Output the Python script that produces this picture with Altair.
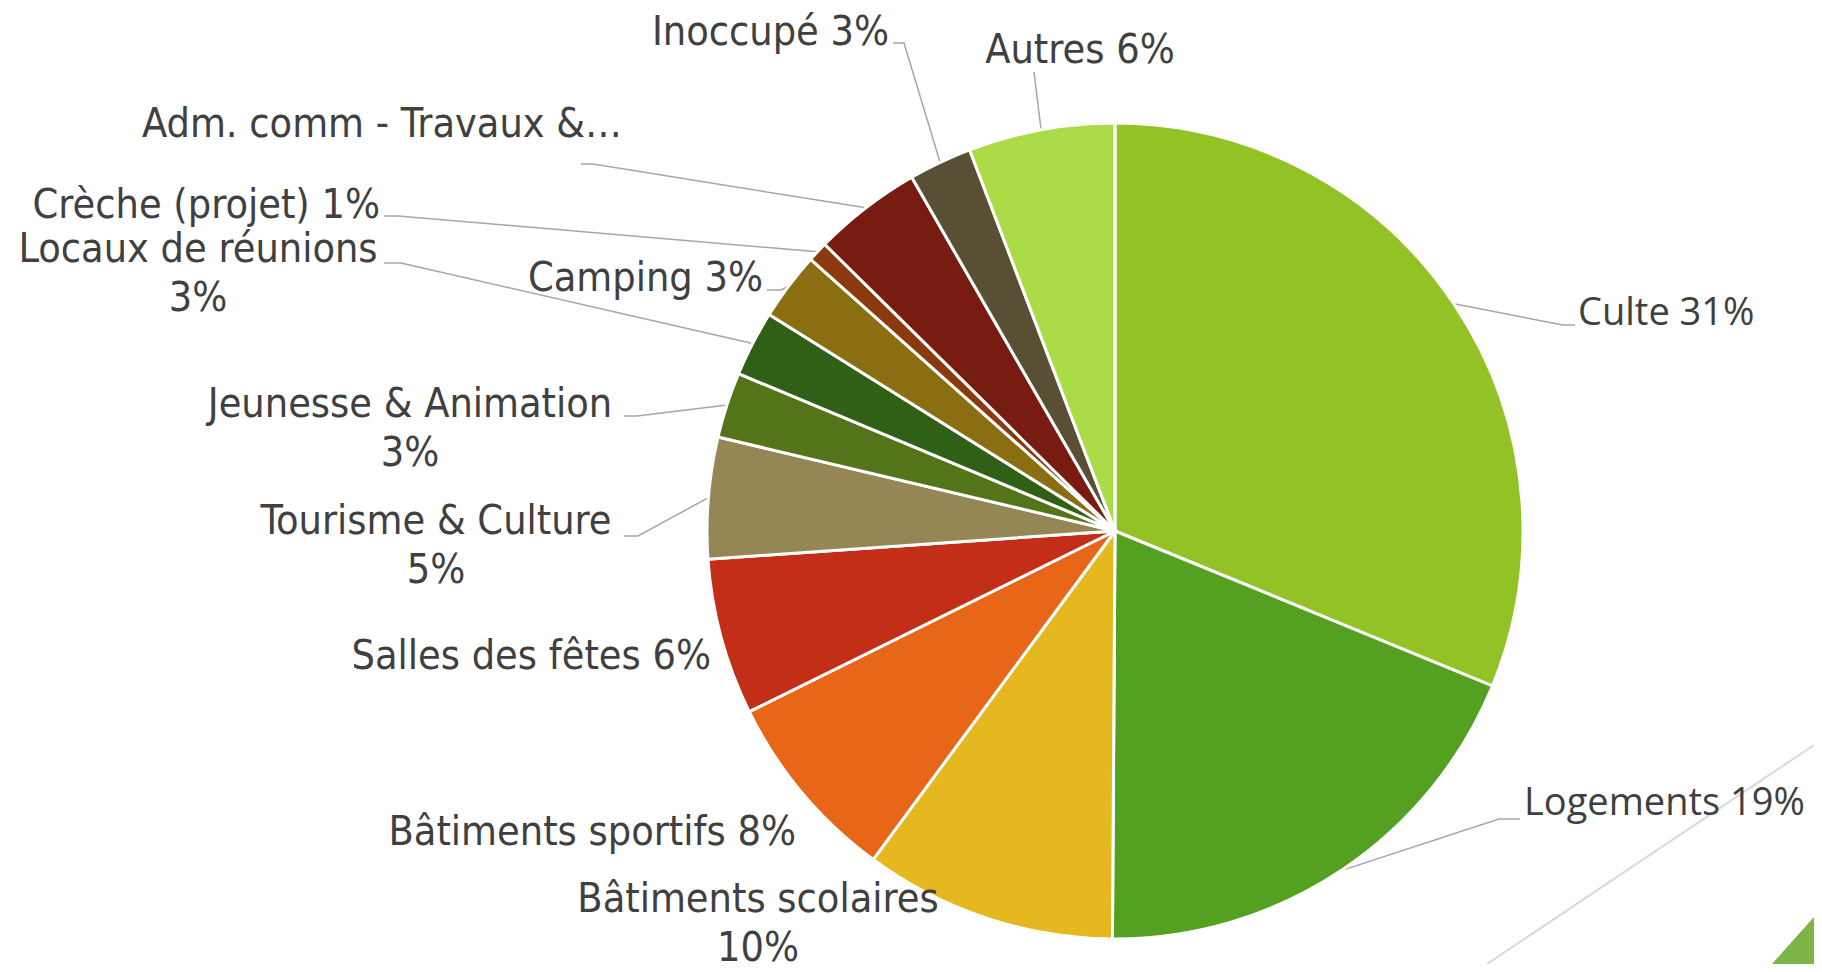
import altair as alt
import pandas as pd
import numpy as np

# ---------------- data ----------------
categories = ["Culte", "Logements", "Bâtiments scolaires", "Bâtiments sportifs",
              "Salles des fêtes", "Tourisme & Culture", "Jeunesse & Animation",
              "Locaux de réunions", "Camping", "Crèche (projet)",
              "Adm. comm - Travaux &…", "Inoccupé", "Autres"]
values = [31.2, 18.9, 10.0, 7.6, 6.2, 4.8, 2.6, 2.6, 2.7, 0.8, 4.3, 2.5, 5.8]
label_texts = ["Culte 31%", "Logements 19%", "Bâtiments scolaires\n10%",
               "Bâtiments sportifs 8%", "Salles des fêtes 6%", "Tourisme & Culture\n5%",
               "Jeunesse & Animation\n3%", "Locaux de réunions\n3%", "Camping 3%",
               "Crèche (projet) 1%", "Adm. comm - Travaux &…", "Inoccupé 3%", "Autres 6%"]
colors = ["#92C225", "#54A021", "#E5B820", "#E76618", "#C32E19", "#948755",
          "#54741A", "#305F16", "#8C6E12", "#8A3A0E", "#781C12", "#584F35", "#ABDC47"]

# ---------------- layout (pixel coordinates of the page; y = first text line) ----------------
CX, CY, R = 1115, 531, 408
label_x = [1578, 1524, 758, 796, 711, 436, 410, 198, 763, 380, 622, 889, 1080]
label_y = [314, 804, 900, 833, 657, 522, 405, 250, 279, 206, 125, 33, 51]
label_align = ["left", "left", "center", "right", "right", "center", "center",
               "center", "right", "right", "right", "right", "center"]
# leader: (elbow x, elbow y, end x, end y) or None
leaders = [(1563, 325, 1575, 325), (1499, 819, 1520, 819), None, None, None,
           (638, 536, 624, 536), (637, 416, 624, 416), (401, 263, 384, 263),
           (781, 290, 767, 290), (398, 216, 384, 216), (593, 164, 581, 164),
           (904, 43, 893, 43), (1034, 72, 1034, 72)]

W, H = 1806, 956
xs = alt.Scale(domain=[8, 8 + W], nice=False, zero=False)
ys = alt.Scale(domain=[8, 8 + H], nice=False, zero=False, reverse=True)

pie_df = pd.DataFrame({"cat": categories, "value": values,
                       "idx": list(range(len(categories)))})

total = float(sum(values))
cum = np.cumsum([0.0] + values[:-1])
mid = 2 * np.pi * (cum + np.array(values) / 2) / total

lab_df = pd.DataFrame({"text": label_texts, "x": label_x, "y": label_y,
                       "align": label_align, "cat": categories})

rows = []
for i, ld in enumerate(leaders):
    if ld is None:
        continue
    ex = CX + R * np.sin(mid[i])
    ey = CY - R * np.cos(mid[i])
    rows.append({"cat": categories[i], "o": 0, "x": ex, "y": ey})
    rows.append({"cat": categories[i], "o": 1, "x": ld[0], "y": ld[1]})
    rows.append({"cat": categories[i], "o": 2, "x": ld[2], "y": ld[3]})
lead_df = pd.DataFrame(rows)

# decorative background elements (theme)
deco_line = pd.DataFrame({"x": [1487, 1814], "y": [964, 745]})
deco_tri = pd.DataFrame({"x": [1772, 1814], "y": [964, 917], "y2": [964, 964]})

TXT = "#404040"
NARROW = "Liberation Sans Narrow, DejaVu Sans Condensed, Arial Narrow, sans-serif"

line_bg = alt.Chart(deco_line).mark_line(color="#D9D9D9", strokeWidth=2).encode(
    x=alt.X("x:Q", scale=xs, axis=None), y=alt.Y("y:Q", scale=ys, axis=None))
tri_bg = alt.Chart(deco_tri).mark_area(color="#7DB446").encode(
    x=alt.X("x:Q", scale=xs, axis=None), y=alt.Y("y:Q", scale=ys, axis=None),
    y2="y2:Q")

pie = alt.Chart(pie_df).mark_arc(outerRadius=R, stroke="white", strokeWidth=3).encode(
    theta=alt.Theta("value:Q", stack=True),
    order=alt.Order("idx:Q"),
    color=alt.Color("cat:N", scale=alt.Scale(domain=categories, range=colors), legend=None),
    x=alt.XDatum(CX, type="quantitative", scale=xs, axis=None),
    y=alt.YDatum(CY, type="quantitative", scale=ys, axis=None),
)

leader_lines = alt.Chart(lead_df).mark_line(color="#A6A6A6", strokeWidth=1.5).encode(
    x=alt.X("x:Q", scale=xs, axis=None), y=alt.Y("y:Q", scale=ys, axis=None),
    detail="cat:N", order="o:Q")

def text_layer(align, font, size, filt):
    return alt.Chart(lab_df).transform_filter(filt).mark_text(
        align=align, baseline="middle", font=font, fontSize=size, color=TXT,
        lineBreak="\n", lineHeight=49).encode(
        x=alt.X("x:Q", scale=xs, axis=None), y=alt.Y("y:Q", scale=ys, axis=None),
        text="text:N")

t_left = text_layer("left", "Open Sans", 38, "datum.align == 'left'")
t_right = text_layer("right", NARROW, 41, "datum.align == 'right'")
t_center = text_layer("center", NARROW, 41, "datum.align == 'center'")

chart = alt.layer(line_bg, tri_bg, leader_lines, pie, t_left, t_right, t_center).properties(
    width=W, height=H, autosize=alt.AutoSizeParams(type="none"), padding=0
).configure_view(stroke=None)

chart.save("out.html", embed_options={"renderer": "svg", "actions": False})
